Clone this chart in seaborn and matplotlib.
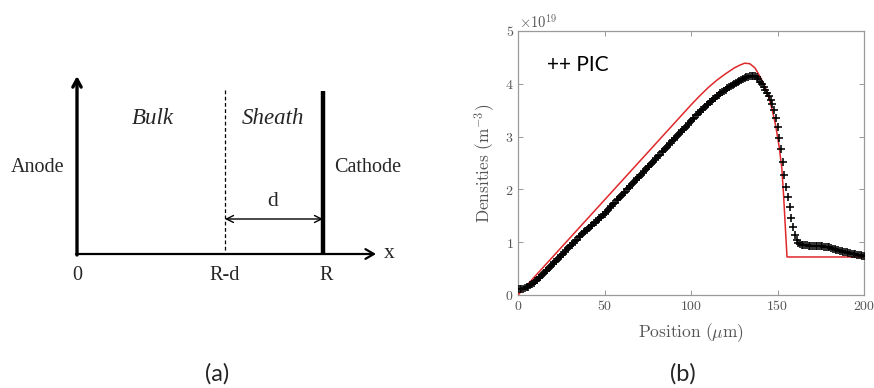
import matplotlib
matplotlib.use("Agg")
import matplotlib.pyplot as plt
import numpy as np
import pandas as pd
import seaborn as sns

# ---------------- data ----------------
pic_position = list(range(0, 201))  # micrometres, 1 um sampling
pic_density = [
    0.11, 0.11, 0.12, 0.12, 0.13, 0.15, 0.16, 0.18, 0.20, 0.23,
    0.26, 0.29, 0.32, 0.35, 0.38, 0.42, 0.45, 0.48, 0.51, 0.55,
    0.58, 0.62, 0.65, 0.68, 0.72, 0.75, 0.78, 0.82, 0.85, 0.89,
    0.92, 0.95, 0.99, 1.02, 1.05, 1.09, 1.12, 1.15, 1.19, 1.22,
    1.24, 1.27, 1.30, 1.33, 1.36, 1.39, 1.42, 1.45, 1.48, 1.51,
    1.54, 1.58, 1.61, 1.65, 1.68, 1.72, 1.75, 1.79, 1.82, 1.86,
    1.89, 1.93, 1.96, 2.00, 2.03, 2.07, 2.10, 2.14, 2.17, 2.21,
    2.24, 2.28, 2.31, 2.35, 2.38, 2.42, 2.45, 2.49, 2.52, 2.56,
    2.59, 2.63, 2.66, 2.70, 2.73, 2.77, 2.80, 2.84, 2.87, 2.91,
    2.94, 2.98, 3.01, 3.05, 3.08, 3.12, 3.15, 3.19, 3.22, 3.26,
    3.29, 3.33, 3.36, 3.40, 3.43, 3.46, 3.50, 3.53, 3.56, 3.59,
    3.62, 3.65, 3.68, 3.71, 3.74, 3.77, 3.79, 3.82, 3.85, 3.87,
    3.89, 3.92, 3.94, 3.96, 3.98, 4.00, 4.02, 4.04, 4.06, 4.08,
    4.09, 4.11, 4.12, 4.13, 4.14, 4.15, 4.15, 4.14, 4.12, 4.09,
    4.04, 3.99, 3.94, 3.89, 3.83, 3.77, 3.70, 3.62, 3.50, 3.36,
    3.19, 2.98, 2.76, 2.52, 2.28, 2.05, 1.85, 1.66, 1.46, 1.28,
    1.13, 1.04, 0.99, 0.96, 0.95, 0.94, 0.94, 0.94, 0.93, 0.93,
    0.93, 0.93, 0.93, 0.93, 0.92, 0.92, 0.92, 0.91, 0.91, 0.90,
    0.90, 0.89, 0.88, 0.87, 0.86, 0.85, 0.84, 0.83, 0.82, 0.81,
    0.81, 0.80, 0.79, 0.78, 0.77, 0.77, 0.76, 0.75, 0.75, 0.74,
    0.73,
]
model_position = [0, 25, 50, 75, 100, 105, 110, 115, 120, 125, 128, 131,
                  134, 137, 140, 143, 145, 147, 149, 151, 152.5, 153.5,
                  154.5, 155.5, 200]
model_density = [0.00, 0.90, 1.80, 2.70, 3.60, 3.77, 3.93, 4.07, 4.19, 4.30,
                 4.35, 4.39, 4.38, 4.30, 4.13, 3.93, 3.74, 3.50, 3.20, 2.80,
                 2.40, 1.90, 1.30, 0.72, 0.72]
x_ticks = [0, 50, 100, 150, 200]
y_ticks = [0, 1, 2, 3, 4, 5]

pic_df = pd.DataFrame({"position": pic_position, "density": pic_density})
model_df = pd.DataFrame({"position": model_position, "density": model_density})

# ---------------- style ----------------
sns.set_style("white")
plt.rcParams["font.family"] = ["DejaVu Sans"]
plt.rcParams["mathtext.fontset"] = "cm"

W, H = 874, 388
fig = plt.figure(figsize=(W / 100, H / 100), dpi=100)

# ---------------- (a) schematic ----------------
axd = fig.add_axes([0, 0, 437 / W, 1])
axd.set_xlim(0, 437)
axd.set_ylim(H, 0)
axd.axis("off")

serif = ["Liberation Serif", "DejaVu Serif"]
x0, xrd, xr, ybase = 77, 225, 323, 254

axd.annotate("", xy=(x0, 76), xytext=(x0, ybase + 1),
             arrowprops=dict(arrowstyle="->,head_length=0.55,head_width=0.3",
                             lw=2.4, color="black", shrinkA=0, shrinkB=0))
axd.annotate("", xy=(376, ybase), xytext=(x0 - 1, ybase),
             arrowprops=dict(arrowstyle="->,head_length=0.6,head_width=0.35",
                             lw=1.6, color="black", shrinkA=0, shrinkB=0))
axd.plot([xr, xr], [91, ybase], color="black", lw=3.2, solid_capstyle="butt")
axd.plot([xrd, xrd], [90, ybase], color="black", lw=0.9, ls=(0, (3, 2)))
axd.annotate("", xy=(xrd, 219), xytext=(xr, 219),
             arrowprops=dict(arrowstyle="<->,head_length=0.5,head_width=0.25",
                             lw=1.0, color="black", shrinkA=0, shrinkB=0))

fs = 14.5
axd.text(38, 167, "Anode", ha="center", va="center", fontsize=fs, family=serif)
axd.text(368, 167, "Cathode", ha="center", va="center", fontsize=fs, family=serif)
axd.text(153, 119, "Bulk", ha="center", va="center", fontsize=fs + 2,
         family=serif, style="italic")
axd.text(273, 119, "Sheath", ha="center", va="center", fontsize=fs + 2,
         family=serif, style="italic")
axd.text(273, 202, "d", ha="center", va="center", fontsize=fs + 1, family=serif)
axd.text(x0, 276, "0", ha="center", va="center", fontsize=fs, family=serif)
axd.text(xrd, 276, "R-d", ha="center", va="center", fontsize=fs, family=serif)
axd.text(xr + 3, 276, "R", ha="center", va="center", fontsize=fs, family=serif)
axd.text(389, 253, "x", ha="center", va="center", fontsize=fs + 1, family=serif)

# ---------------- (b) densities plot ----------------
L, R, T, B = 518, 864, 31, 295
ax = fig.add_axes([L / W, 1 - B / H, (R - L) / W, (B - T) / H])

sns.lineplot(data=model_df, x="position", y="density", ax=ax,
             color="#e0282a", lw=1.1, zorder=3)
sns.scatterplot(data=pic_df, x="position", y="density", ax=ax,
                marker="+", color="black", s=30, linewidth=1.15, zorder=4)

ax.set_xlim(0, 200)
ax.set_ylim(0, 5)
ax.set_xticks(x_ticks)
ax.set_yticks(y_ticks)
ax.set_xticklabels([f"${v}$" for v in x_ticks])
ax.set_yticklabels([f"${v}$" for v in y_ticks])
grey = "#555555"
ax.tick_params(direction="in", length=3.5, width=0.7, colors="#999999",
               labelcolor=grey, labelsize=10, top=True, right=True,
               bottom=True, left=True, pad=3)
for s in ax.spines.values():
    s.set_color("#9a9a9a")
    s.set_linewidth(0.9)
ax.set_xlabel(r"$\mathrm{Position\ (}\mu\mathrm{m)}$", fontsize=12.5, color=grey)
ax.set_ylabel(r"$\mathrm{Densities\ (m^{-3})}$", fontsize=12.5, color=grey)
ax.xaxis.set_label_coords(0.5, -0.098)
ax.yaxis.set_label_coords(-0.058, 0.5)

fig.text(519 / W, 1 - 22 / H, r"$\times10^{19}$", ha="left", va="center",
         fontsize=10.5, color=grey)
fig.text(547 / W, 1 - 65 / H, "++ PIC", ha="left", va="center",
         fontsize=15, family=["Lato", "DejaVu Sans"], color="black")

# panel captions
fig.text(217 / W, 1 - 374 / H, "(a)", ha="center", va="center",
         fontsize=17, family=["Lato", "DejaVu Sans"])
fig.text(683 / W, 1 - 374 / H, "(b)", ha="center", va="center",
         fontsize=17, family=["Lato", "DejaVu Sans"])

fig.savefig("out.png", dpi=100)
